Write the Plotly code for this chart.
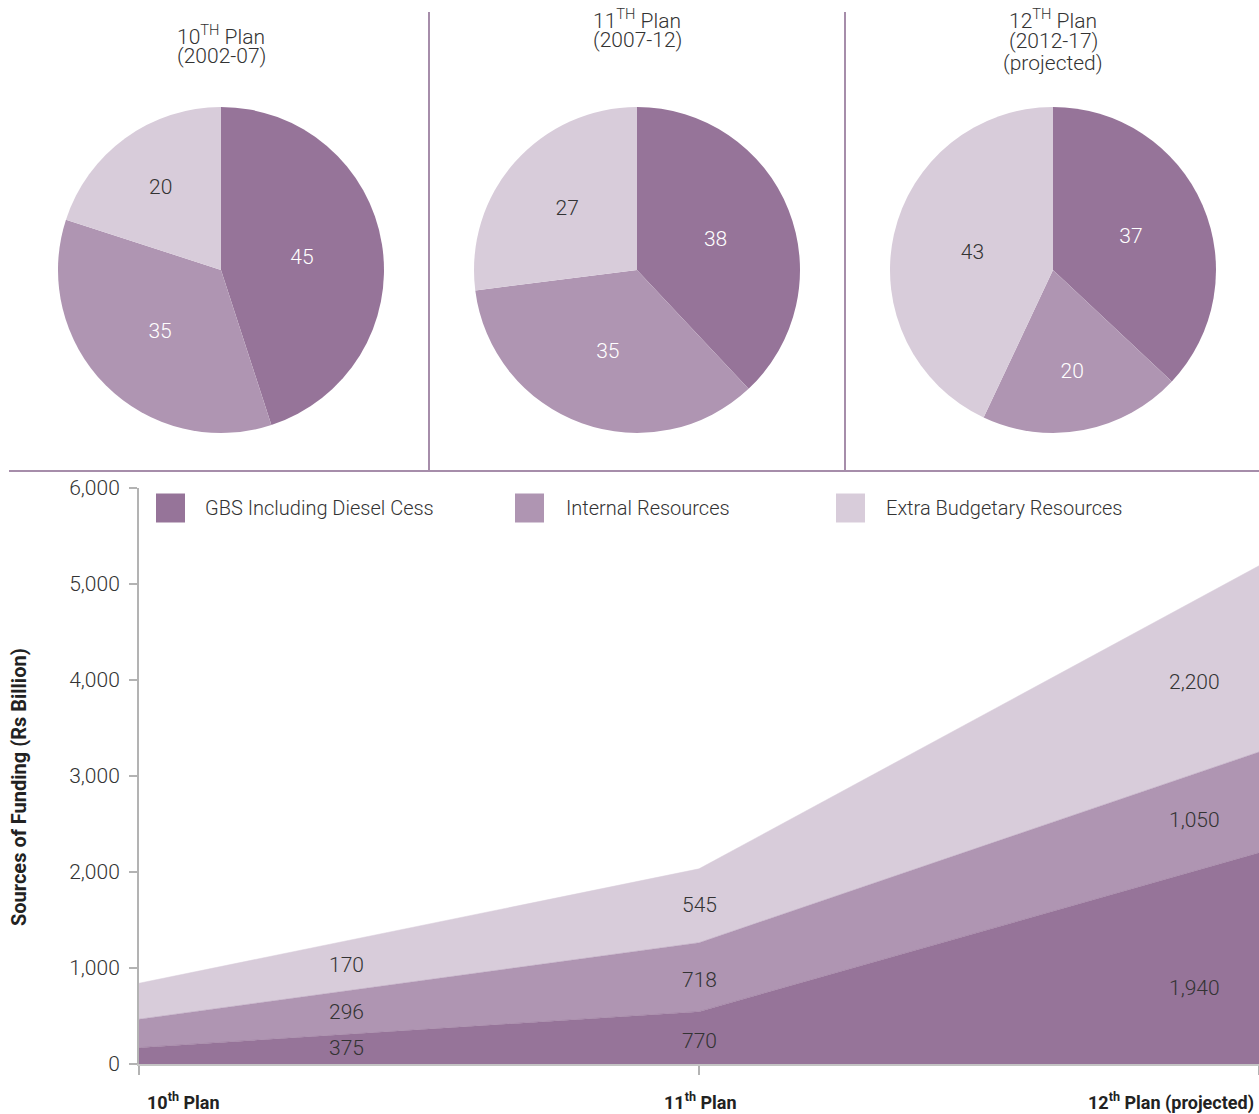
import plotly.graph_objects as go

W, H = 1259, 1114

# ---------------- data ----------------
series_names = ["GBS Including Diesel Cess", "Internal Resources", "Extra Budgetary Resources"]
colors = ["#967499", "#AF95B2", "#D8CCDA"]

plan_titles = [
    ["10<sup>TH</sup> Plan", "(2002-07)"],
    ["11<sup>TH</sup> Plan", "(2007-12)"],
    ["12<sup>TH</sup> Plan", "(2012-17)", "(projected)"],
]

# pie shares (%) for each plan
share_gbs = [45, 38, 37]
share_internal = [35, 35, 20]
share_extra = [20, 27, 43]

# sources of funding (Rs billion) as labelled
x_labels = ["10<sup>th</sup> Plan", "11<sup>th</sup> Plan", "12<sup>th</sup> Plan (projected)"]
gbs = [375, 770, 1940]
internal = [296, 718, 1050]
extra = [170, 545, 2200]

y_ticks = [0, 1000, 2000, 3000, 4000, 5000, 6000]

# ---------------- helpers ----------------
def px(x):
    return x / W

def py(y):
    return 1 - y / H

FONT = "Roboto"
TXT = "#333333"
LINE = "#A68DAA"
AXIS = "#B3B3B3"

fig = go.Figure()

# ---------------- pies ----------------
pie_centers = [221, 637, 1053]
pie_cy, pie_r = 270, 163
for i, cx in enumerate(pie_centers):
    fig.add_trace(go.Pie(
        values=[share_gbs[i], share_internal[i], share_extra[i]],
        labels=series_names,
        sort=False, direction="clockwise", rotation=0,
        marker=dict(colors=colors, line=dict(width=0)),
        texttemplate="%{value}", textposition="inside",
        insidetextorientation="horizontal",
        textfont=dict(family=FONT, size=21, color=["#ffffff", "#ffffff", TXT], weight=300),
        domain=dict(x=[px(cx - pie_r), px(cx + pie_r)], y=[py(pie_cy + pie_r), py(pie_cy - pie_r)]),
        showlegend=False, hoverinfo="skip",
    ))

# ---------------- stacked areas (bands as drawn in the original) ----------------
xs = [0, 1, 2]
band_values = [extra, internal, gbs]      # bottom -> top thickness as drawn
band_labels = [gbs, internal, extra]      # text printed in each band
for k in range(3):
    fig.add_trace(go.Scatter(
        x=xs, y=band_values[k], stackgroup="one", mode="lines",
        line=dict(width=0.5, color=colors[k]), fillcolor=colors[k],
        showlegend=False, hoverinfo="skip", xaxis="x", yaxis="y",
    ))

label_x = [0.371, 1.0, 1.884]
label_y = [[167, 240, 792], [542, 875, 2542], [1031, 1656, 3979]]
annotations = []
for k in range(3):
    for j in range(3):
        annotations.append(dict(
            x=label_x[j], y=label_y[k][j], xref="x", yref="y",
            text=f"{band_labels[k][j]:,}", showarrow=False,
            font=dict(family=FONT, size=21, color=TXT, weight=300),
        ))

# x category labels
x_anchor = ["left", "center", "right"]
x_pos = [145, 700, 1256]
for j in range(3):
    annotations.append(dict(
        x=px(x_pos[j]), y=py(1101), xref="paper", yref="paper",
        xanchor=x_anchor[j], yanchor="middle", text=x_labels[j], showarrow=False,
        font=dict(family=FONT, size=18, color="#222222", weight=700),
    ))

# y axis title
annotations.append(dict(
    x=px(19), y=py(787), xref="paper", yref="paper", textangle=-90,
    xanchor="center", yanchor="middle",
    text="Sources of Funding (Rs Billion)", showarrow=False,
    font=dict(family=FONT, size=20, color="#222222", weight=700),
))

# pie titles
title_y = [[35, 56], [19, 40], [19, 41, 63]]
for i, cx in enumerate(pie_centers):
    for li, line in enumerate(plan_titles[i]):
        annotations.append(dict(
            x=px(cx), y=py(title_y[i][li]), xref="paper", yref="paper",
            xanchor="center", yanchor="middle", text=line, showarrow=False,
            font=dict(family=FONT, size=21, color=TXT, weight=300),
        ))

# custom legend
shapes = []
leg_sq_x = [156, 515, 836]
leg_txt_x = [203, 564, 884]
leg_y = 508
for k in range(3):
    shapes.append(dict(type="rect", xref="paper", yref="paper",
                       x0=px(leg_sq_x[k]), x1=px(leg_sq_x[k] + 29),
                       y0=py(leg_y + 14.5), y1=py(leg_y - 14.5),
                       fillcolor=colors[k], line=dict(width=0)))
    annotations.append(dict(
        x=px(leg_txt_x[k]), y=py(leg_y), xref="paper", yref="paper",
        xanchor="left", yanchor="middle", text=series_names[k], showarrow=False,
        font=dict(family=FONT, size=20, color=TXT, weight=300),
    ))

# separator lines
shapes.append(dict(type="line", xref="paper", yref="paper",
                   x0=px(9), x1=1, y0=py(471), y1=py(471), line=dict(color=LINE, width=2)))
for vx in [429, 845]:
    shapes.append(dict(type="line", xref="paper", yref="paper",
                       x0=px(vx), x1=px(vx), y0=py(12), y1=py(471), line=dict(color=LINE, width=2)))

fig.update_layout(
    width=W, height=H, margin=dict(l=0, r=0, t=0, b=0),
    paper_bgcolor="white", plot_bgcolor="white",
    font=dict(family=FONT, color=TXT),
    xaxis=dict(domain=[px(139), 1.0], range=[0, 2], showgrid=False, zeroline=False,
               showline=True, linecolor="#C4C4C4", linewidth=2, ticks="outside",
               tickvals=xs, ticklen=9, tickwidth=2, tickcolor=AXIS, showticklabels=False,
               automargin=False, fixedrange=True),
    yaxis=dict(domain=[py(1064), py(488)], range=[0, 6000], showgrid=False, zeroline=False,
               showline=True, linecolor=AXIS, linewidth=2, ticks="outside",
               tickvals=y_ticks, tickformat=",", ticklen=8, tickwidth=2, tickcolor=AXIS,
               tickfont=dict(family=FONT, size=21, color=TXT, weight=300),
               ticklabelstandoff=5, automargin=False, fixedrange=True),
    annotations=annotations, shapes=shapes, showlegend=False,
)

fig.write_html("out.html", config={"displayModeBar": False},
               post_script="document.body.style.margin='0px';document.body.style.overflow='hidden';")
